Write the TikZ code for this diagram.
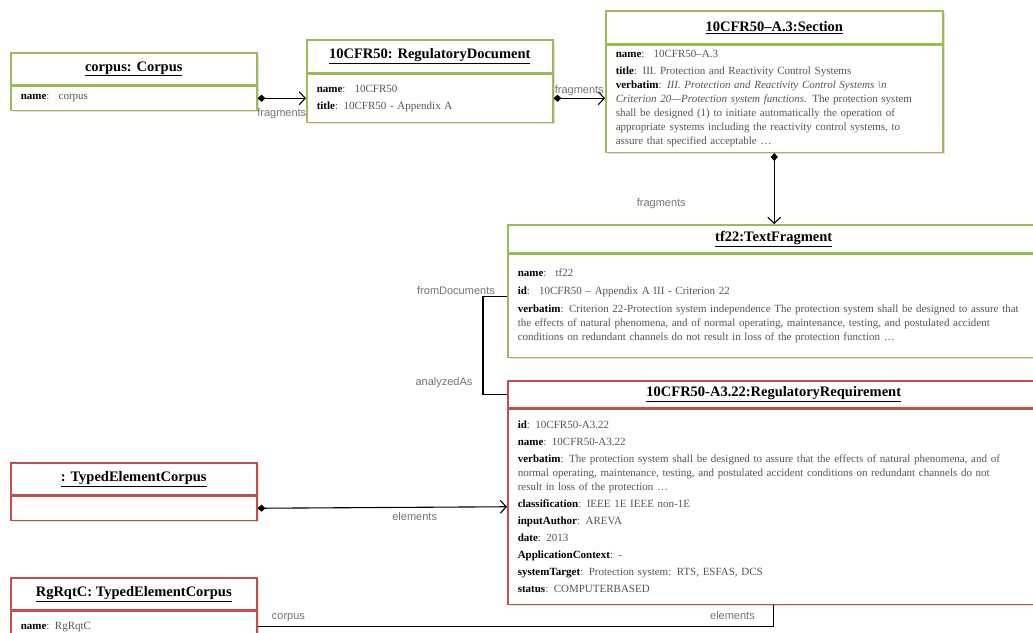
\documentclass[tikz,border=0pt]{standalone}
\usepackage{fontspec}
\setmainfont{Liberation Serif}
\newfontfamily\lblfont{Liberation Sans}
\usepackage{tikz}
\usetikzlibrary{arrows.meta,shadows}

\definecolor{umlgreen}{HTML}{9BBB59}
\definecolor{umlred}{HTML}{C0504D}
\definecolor{valgray}{HTML}{555555}
\newcommand{\attrname}[1]{\textcolor{black}{\textbf{#1}}}

\begin{document}
\begin{tikzpicture}[x=1pt,y=-1pt,
  box/.style={draw=#1,line width=1.5pt,fill=white,rectangle,inner xsep=10pt,inner ysep=0pt,
    drop shadow={shadow xshift=2pt,shadow yshift=-2pt,opacity=0.25}},
  head/.style={box=#1,font=\fontsize{14.5}{17}\selectfont\bfseries,anchor=north west},
  body/.style={box=#1,font=\fontsize{11}{14}\selectfont,text=valgray,align=left,anchor=north west},
  lbl/.style={font=\lblfont\fontsize{11}{13}\selectfont,text=black!55,inner sep=2pt},
  comp/.style={draw,line width=1.1pt,{Diamond[length=8pt,width=7pt]}-{Straight Barb[length=6pt,width=13pt]}},
  assoc/.style={draw,line width=1.1pt}]
\useasboundingbox[fill=white] (0,0) rectangle (1033,632);

% corpus
\node[head=umlgreen,minimum width=246,minimum height=32] (corpus-head) at (10,52) {\underline{corpus: Corpus}};
\node[body=umlgreen,text width=226,minimum height=24] (corpus-body) at (corpus-head.south west)
  {\attrname{name}:~ corpus};

% regulatory document
\node[head=umlgreen,minimum width=246,minimum height=33] (regdoc-head) at (306,39) {\underline{10CFR50: RegulatoryDocument}};
\node[body=umlgreen,text width=226,minimum height=48] (regdoc-body) at (regdoc-head.south west)
  {\attrname{name}:~ 10CFR50\\[3pt]
   \attrname{title}: 10CFR50 - Appendix A};

% section
\node[head=umlgreen,minimum width=337,minimum height=33] (section-head) at (605,10) {\underline{10CFR50--A.3:Section}};
\node[body=umlgreen,text width=317,minimum height=107] (section-body) at (section-head.south west)
  {\attrname{name}:~ 10CFR50--A.3\\[3pt]
   \attrname{title}: III. Protection and Reactivity Control Systems\\
   \attrname{verbatim}: \textit{III. Protection and Reactivity Control Systems \textbackslash n}\\
   \textit{Criterion 20---Protection system functions.} The protection system\\
   shall be designed (1) to initiate automatically the operation of\\
   appropriate systems including the reactivity control systems, to\\
   assure that specified acceptable \ldots};

% text fragment
\node[head=umlgreen,minimum width=532,minimum height=28] (tf22-head) at (507,224) {\underline{tf22:TextFragment}};
\node[body=umlgreen,text width=512,minimum height=103] (tf22-body) at (tf22-head.south west)
  {\attrname{name}:~ tf22\\[4pt]
   \attrname{id}:~ 10CFR50 -- Appendix A III - Criterion 22\\[4pt]
   \attrname{verbatim}: Criterion 22-Protection system independence The protection system shall be designed to assure that\\
   the effects of natural phenomena, and of normal operating, maintenance, testing, and postulated accident\\
   conditions on redundant channels do not result in loss of the protection function \ldots};

% regulatory requirement
\node[head=umlred,minimum width=532,minimum height=27] (regreq-head) at (507,380) {\underline{10CFR50-A3.22:RegulatoryRequirement}};
\node[body=umlred,text width=512,minimum height=195] (regreq-body) at (regreq-head.south west)
  {\attrname{id}: 10CFR50-A3.22\\[3pt]
   \attrname{name}: 10CFR50-A3.22\\[3pt]
   \attrname{verbatim}: The protection system shall be designed to assure that the effects of natural phenomena, and of\\
   normal operating, maintenance, testing, and postulated accident conditions on redundant channels do not\\
   result in loss of the protection \ldots\\[3pt]
   \attrname{classification}: IEEE 1E IEEE non-1E\\[3pt]
   \attrname{inputAuthor}: AREVA\\[3pt]
   \attrname{date}: 2013\\[3pt]
   \attrname{ApplicationContext}: -\\[3pt]
   \attrname{systemTarget}: Protection system: RTS, ESFAS, DCS\\[3pt]
   \attrname{status}: COMPUTERBASED};

% typed element corpora
\node[head=umlred,minimum width=246,minimum height=32] (tec-head) at (10,462) {\underline{: TypedElementCorpus}};
\node[body=umlred,text width=226,minimum height=24] (tec-body) at (tec-head.south west) {};
\node[head=umlred,minimum width=246,minimum height=32] (rgrqtc-head) at (10,577) {\underline{RgRqtC: TypedElementCorpus}};
\node[body=umlred,text width=226,minimum height=31] (rgrqtc-body) at (rgrqtc-head.south west)
  {\attrname{name}: RgRqtC};

% links
\draw[comp] (corpus-body.east) -- node[lbl,below=8pt] (frag1-lbl) {fragments} (regdoc-body.east -| regdoc-body.west);
\draw[comp] (regdoc-body.east) -- node[lbl,above] (frag2-lbl) {fragments} (regdoc-body.east -| section-body.west);
\draw[comp] (section-body.south) -- node[lbl,pos=0.72,left=86pt] (frag3-lbl) {fragments} (section-body.south |- tf22-head.north);
\draw[assoc] ([yshift=9.5pt]tf22-body.west) -- ++(-24,0) |- (regreq-head.west);
\node[lbl] (fromdoc-lbl) at (456,291) {fromDocuments};
\node[lbl] (analyzed-lbl) at (444,383) {analyzedAs};
\draw[comp] (tec-body.east) -- node[lbl,pos=0.63,below=3pt] (elem1-lbl) {elements} (regreq-body.west);
\draw[assoc] (rgrqtc-body.east) -| node[lbl,pos=0.03,above=2pt] (corpus-lbl) {corpus}
  node[lbl,pos=0.46,above=5pt] (elem2-lbl) {elements} (regreq-body.south);
\end{tikzpicture}
\end{document}
